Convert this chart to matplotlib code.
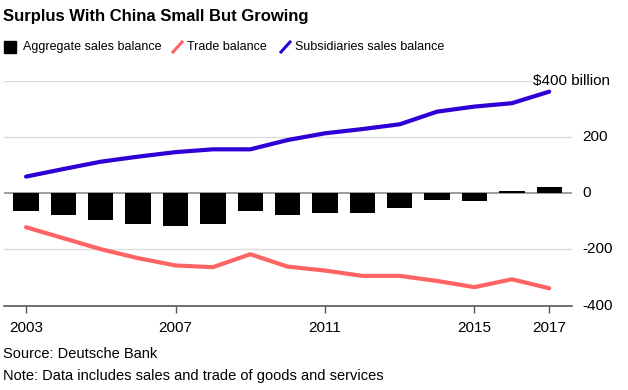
import matplotlib
matplotlib.use("Agg")
import matplotlib.pyplot as plt
from matplotlib.lines import Line2D
from matplotlib.patches import Rectangle

years = list(range(2003, 2018))
aggregate = [-62, -79, -97, -108, -115, -108, -62, -76, -69, -69, -51, -24, -26, 8, 22]
trade = [-121, -160, -199, -231, -257, -263, -217, -261, -275, -294, -294, -312, -334, -306, -338]
subsidiaries = [59, 86, 112, 130, 146, 156, 156, 189, 213, 228, 245, 290, 308, 320, 361]
xticks = [2003, 2007, 2011, 2015, 2017]
yticks = [-400, -200, 0, 200, 400]
ytick_labels = ["-400", "-200", "0", "200", "$400 billion"]

BLUE = "#2e00d6"
RED = "#ff6464"
FONT = "Liberation Sans"
plt.rcParams['font.family'] = [FONT, 'DejaVu Sans']

W, H = 628, 390
fig = plt.figure(figsize=(W / 100, H / 100), dpi=100)
ax = fig.add_axes([4 / W, (H - 305.7) / H, (572 - 4) / W, (305.7 - 80.7) / H])

for y in yticks:
    if y == 0 or y == -400:
        continue
    xmax = 0.928 if y == 400 else 1.0
    ax.axhline(y, xmin=0, xmax=xmax, color="#dcdcdc", lw=1.0, zorder=0)
ax.axhline(0, color="#8c8c8c", lw=1.2, zorder=1)

ax.bar(years, aggregate, width=0.68, color="black", zorder=2)
ax.plot(years, trade, color=RED, lw=3.0, solid_capstyle="round", zorder=3)
ax.plot(years, subsidiaries, color=BLUE, lw=3.0, solid_capstyle="round", zorder=3)

ax.set_xlim(2002.41, 2017.61)
ax.set_ylim(-400, 400)
for s in ["top", "left", "right"]:
    ax.spines[s].set_visible(False)
ax.spines["bottom"].set_color("#555555")
ax.spines["bottom"].set_linewidth(1.2)
ax.set_xticks(xticks)
ax.set_xticklabels([str(x) for x in xticks])
ax.tick_params(axis="x", length=5, width=1, color="#555555", labelsize=11, pad=6)
ax.set_yticks([])
for y, lab in zip(yticks, ytick_labels):
    xpos = 1.0 + 10 / (572 - 4)
    if y == 400:
        xpos = 0.932
    ax.text(xpos, y, lab, transform=ax.get_yaxis_transform(), ha="left", va="center",
            fontsize=11, color="black")

fig.text(3 / W, 1 - 17 / H, "Surplus With China Small But Growing", fontsize=12,
         fontweight="bold", ha="left", va="center")

ly = 1 - 47 / H
fig.patches.append(Rectangle((4 / W, ly - 6 / H), 12 / W, 12 / H, transform=fig.transFigure,
                             color="black"))
fig.text(23 / W, ly, "Aggregate sales balance", fontsize=9, ha="left", va="center")
fig.lines.append(Line2D([173 / W, 182 / W], [ly - 5 / H, ly + 5 / H], transform=fig.transFigure,
                        color=RED, lw=2.2))
fig.text(187 / W, ly, "Trade balance", fontsize=9, ha="left", va="center")
fig.lines.append(Line2D([281 / W, 290 / W], [ly - 5 / H, ly + 5 / H], transform=fig.transFigure,
                        color=BLUE, lw=2.2))
fig.text(295 / W, ly, "Subsidiaries sales balance", fontsize=9, ha="left", va="center")

fig.text(3 / W, 1 - 354 / H, "Source: Deutsche Bank", fontsize=10.5, ha="left", va="center")
fig.text(3 / W, 1 - 376 / H, "Note: Data includes sales and trade of goods and services",
         fontsize=10.5, ha="left", va="center")

fig.savefig("out.png", dpi=100)
